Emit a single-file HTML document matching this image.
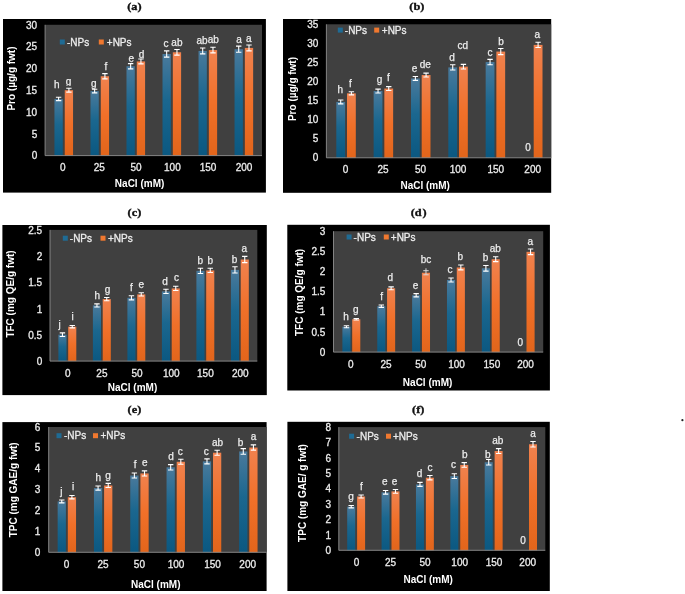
<!DOCTYPE html>
<html><head><meta charset="utf-8"><title>Figure</title>
<style>
html,body{margin:0;padding:0;background:#fff;}
body{width:685px;height:594px;overflow:hidden;}
svg{display:block;filter:blur(0.4px);}
text{font-family:"Liberation Sans",sans-serif;}
.s{font-family:"Liberation Serif",serif;font-weight:bold;font-size:10.8px;fill:#111;stroke:#111;stroke-width:0.35px;}
.w{fill:#ececec;font-size:10px;stroke:#ececec;stroke-width:0.3px;}
.b{fill:#fff;font-size:10px;font-weight:bold;}
.l{fill:#ececec;font-size:10px;stroke:#ececec;stroke-width:0.25px;}
</style></head>
<body>
<svg width="685" height="594" viewBox="0 0 685 594">
<defs>
<linearGradient id="gb" x1="0" y1="0" x2="0" y2="1"><stop offset="0" stop-color="#4a7a9c"/><stop offset="0.45" stop-color="#1b678f"/><stop offset="1" stop-color="#0b5881"/></linearGradient>
<linearGradient id="go" x1="0" y1="0" x2="0" y2="1"><stop offset="0" stop-color="#f0824f"/><stop offset="0.5" stop-color="#f07029"/><stop offset="1" stop-color="#e2651b"/></linearGradient>
</defs>
<rect width="685" height="594" fill="#fff"/>
<g>
<text class="s" transform="translate(134.4 9.7) scale(1.14 1)" text-anchor="middle">(a)</text>
<rect x="3" y="19" width="262.9" height="173.6" fill="#000"/>
<rect x="45.1" y="24.8" width="216.9" height="130.8" fill="#404040"/>
<rect x="54.45" y="98.92" width="8.3" height="56.68" fill="url(#gb)"/>
<path d="M58.6 97.26V100.58M55.9 97.26H61.3M55.9 100.58H61.3" stroke="#fff" stroke-width="1.1" fill="none"/>
<text class="l" x="56.8" y="87.9" text-anchor="middle">h</text>
<rect x="64.75" y="90.2" width="8.3" height="65.4" fill="url(#go)"/>
<path d="M68.9 88.28V92.12M66.2 88.28H71.6M66.2 92.12H71.6" stroke="#fff" stroke-width="1.1" fill="none"/>
<clipPath id="cl1"><rect x="58.5" y="73.4" width="20" height="12.6"/></clipPath>
<text class="l" clip-path="url(#cl1)" x="68.5" y="85.4" text-anchor="middle">g</text>
<rect x="90.47" y="91.07" width="8.3" height="64.53" fill="url(#gb)"/>
<path d="M94.62 89.24V92.9M91.92 89.24H97.32M91.92 92.9H97.32" stroke="#fff" stroke-width="1.1" fill="none"/>
<text class="l" x="93.7" y="87.1" text-anchor="middle">g</text>
<rect x="100.77" y="76.25" width="8.3" height="79.35" fill="url(#go)"/>
<path d="M104.92 73.63V78.86M102.22 73.63H107.62M102.22 78.86H107.62" stroke="#fff" stroke-width="1.1" fill="none"/>
<text class="l" x="106" y="69.5" text-anchor="middle">f</text>
<rect x="126.49" y="66.22" width="8.3" height="89.38" fill="url(#gb)"/>
<path d="M130.64 63.6V68.84M127.94 63.6H133.34M127.94 68.84H133.34" stroke="#fff" stroke-width="1.1" fill="none"/>
<text class="l" x="131.2" y="62.2" text-anchor="middle">e</text>
<rect x="136.79" y="61.42" width="8.3" height="94.18" fill="url(#go)"/>
<path d="M140.94 58.94V63.91M138.24 58.94H143.64M138.24 63.91H143.64" stroke="#fff" stroke-width="1.1" fill="none"/>
<text class="l" x="141.6" y="57.7" text-anchor="middle">d</text>
<rect x="162.51" y="54.01" width="8.3" height="101.59" fill="url(#gb)"/>
<path d="M166.66 50.87V57.15M163.96 50.87H169.36M163.96 57.15H169.36" stroke="#fff" stroke-width="1.1" fill="none"/>
<text class="l" x="166" y="46.9" text-anchor="middle">c</text>
<rect x="172.81" y="52.27" width="8.3" height="103.33" fill="url(#go)"/>
<path d="M176.96 49.43V55.1M174.26 49.43H179.66M174.26 55.1H179.66" stroke="#fff" stroke-width="1.1" fill="none"/>
<text class="l" x="176.9" y="45.5" text-anchor="middle">ab</text>
<rect x="198.53" y="50.96" width="8.3" height="104.64" fill="url(#gb)"/>
<path d="M202.68 48.04V53.88M199.98 48.04H205.38M199.98 53.88H205.38" stroke="#fff" stroke-width="1.1" fill="none"/>
<text class="l" x="202" y="43.5" text-anchor="middle">ab</text>
<rect x="208.83" y="50.09" width="8.3" height="105.51" fill="url(#go)"/>
<path d="M212.98 47.25V52.92M210.28 47.25H215.68M210.28 52.92H215.68" stroke="#fff" stroke-width="1.1" fill="none"/>
<text class="l" x="213.3" y="43" text-anchor="middle">ab</text>
<rect x="234.55" y="49.22" width="8.3" height="106.38" fill="url(#gb)"/>
<path d="M238.7 46.16V52.27M236 46.16H241.4M236 52.27H241.4" stroke="#fff" stroke-width="1.1" fill="none"/>
<text class="l" x="239" y="42.7" text-anchor="middle">a</text>
<rect x="244.85" y="47.91" width="8.3" height="107.69" fill="url(#go)"/>
<path d="M249 44.99V50.83M246.3 44.99H251.7M246.3 50.83H251.7" stroke="#fff" stroke-width="1.1" fill="none"/>
<text class="l" x="248.7" y="41.5" text-anchor="middle">a</text>
<path d="M45.1 24.8V155.6H262" stroke="#8e8e8e" stroke-width="0.9" fill="none"/>
<text class="w" x="37.2" y="159.3" text-anchor="end">0</text>
<text class="w" x="37.2" y="137.5" text-anchor="end">5</text>
<text class="w" x="37.2" y="115.7" text-anchor="end">10</text>
<text class="w" x="37.2" y="93.9" text-anchor="end">15</text>
<text class="w" x="37.2" y="72.1" text-anchor="end">20</text>
<text class="w" x="37.2" y="50.3" text-anchor="end">25</text>
<text class="w" x="37.2" y="28.5" text-anchor="end">30</text>
<text class="w" x="62.7" y="171" text-anchor="middle">0</text>
<text class="w" x="99.3" y="171" text-anchor="middle">25</text>
<text class="w" x="136" y="171" text-anchor="middle">50</text>
<text class="w" x="172.4" y="171" text-anchor="middle">100</text>
<text class="w" x="208.1" y="171" text-anchor="middle">150</text>
<text class="w" x="244" y="171" text-anchor="middle">200</text>
<text class="b" x="139.6" y="186.6" text-anchor="middle">NaCl (mM)</text>
<text class="b" transform="translate(15.1 78.5) rotate(-90)" text-anchor="middle">Pro (µg/g fwt)</text>
<rect x="59.8" y="39.5" width="5" height="5" fill="#1f6b94"/>
<text class="w" x="67" y="45.5">-NPs</text>
<rect x="98.8" y="39.5" width="5" height="5" fill="#f0782f"/>
<text class="w" x="106.8" y="45.5">+NPs</text>
</g>
<g>
<text class="s" transform="translate(416.9 9.7) scale(1.14 1)" text-anchor="middle">(b)</text>
<rect x="283" y="19" width="268.2" height="173.8" fill="#000"/>
<rect x="326.4" y="24.3" width="224.8" height="133.5" fill="#404040"/>
<rect x="336.3" y="101.92" width="8.8" height="55.88" fill="url(#gb)"/>
<path d="M340.7 100.01V103.83M338 100.01H343.4M338 103.83H343.4" stroke="#fff" stroke-width="1.1" fill="none"/>
<text class="l" x="340.4" y="92.7" text-anchor="middle">h</text>
<rect x="347" y="93.34" width="8.8" height="64.46" fill="url(#go)"/>
<path d="M351.4 91.81V94.86M348.7 91.81H354.1M348.7 94.86H354.1" stroke="#fff" stroke-width="1.1" fill="none"/>
<text class="l" x="350.5" y="86.6" text-anchor="middle">f</text>
<rect x="373.64" y="91.05" width="8.8" height="66.75" fill="url(#gb)"/>
<path d="M378.04 89.14V92.96M375.34 89.14H380.74M375.34 92.96H380.74" stroke="#fff" stroke-width="1.1" fill="none"/>
<text class="l" x="379.6" y="82.9" text-anchor="middle">g</text>
<rect x="384.34" y="88.53" width="8.8" height="69.27" fill="url(#go)"/>
<path d="M388.74 86.63V90.44M386.04 86.63H391.44M386.04 90.44H391.44" stroke="#fff" stroke-width="1.1" fill="none"/>
<text class="l" x="388.3" y="80.9" text-anchor="middle">f</text>
<rect x="410.98" y="78.46" width="8.8" height="79.34" fill="url(#gb)"/>
<path d="M415.38 76.56V80.37M412.68 76.56H418.08M412.68 80.37H418.08" stroke="#fff" stroke-width="1.1" fill="none"/>
<text class="l" x="414.5" y="71.5" text-anchor="middle">e</text>
<rect x="421.68" y="75.03" width="8.8" height="82.77" fill="url(#go)"/>
<path d="M426.08 73.12V76.94M423.38 73.12H428.78M423.38 76.94H428.78" stroke="#fff" stroke-width="1.1" fill="none"/>
<text class="l" x="425.2" y="68.3" text-anchor="middle">de</text>
<rect x="448.32" y="67.4" width="8.8" height="90.4" fill="url(#gb)"/>
<path d="M452.72 64.73V70.07M450.02 64.73H455.42M450.02 70.07H455.42" stroke="#fff" stroke-width="1.1" fill="none"/>
<text class="l" x="452.1" y="60.8" text-anchor="middle">d</text>
<rect x="459.02" y="66.64" width="8.8" height="91.16" fill="url(#go)"/>
<path d="M463.42 64.35V68.93M460.72 64.35H466.12M460.72 68.93H466.12" stroke="#fff" stroke-width="1.1" fill="none"/>
<text class="l" x="462.7" y="48.5" text-anchor="middle">cd</text>
<rect x="485.66" y="62.06" width="8.8" height="95.74" fill="url(#gb)"/>
<path d="M490.06 59.39V64.73M487.36 59.39H492.76M487.36 64.73H492.76" stroke="#fff" stroke-width="1.1" fill="none"/>
<text class="l" x="489.9" y="55.8" text-anchor="middle">c</text>
<rect x="496.36" y="51.57" width="8.8" height="106.23" fill="url(#go)"/>
<path d="M500.76 48.52V54.62M498.06 48.52H503.46M498.06 54.62H503.46" stroke="#fff" stroke-width="1.1" fill="none"/>
<text class="l" x="501.1" y="44.8" text-anchor="middle">b</text>
<text class="l" x="528" y="151.1" text-anchor="middle">0</text>
<rect x="533.7" y="44.9" width="8.8" height="112.9" fill="url(#go)"/>
<path d="M538.1 42.23V47.57M535.4 42.23H540.8M535.4 47.57H540.8" stroke="#fff" stroke-width="1.1" fill="none"/>
<text class="l" x="537.2" y="37.6" text-anchor="middle">a</text>
<path d="M326.4 24.3V157.8H551.2" stroke="#8e8e8e" stroke-width="0.9" fill="none"/>
<text class="w" x="318.4" y="161.4" text-anchor="end">0</text>
<text class="w" x="318.4" y="142.33" text-anchor="end">5</text>
<text class="w" x="318.4" y="123.26" text-anchor="end">10</text>
<text class="w" x="318.4" y="104.19" text-anchor="end">15</text>
<text class="w" x="318.4" y="85.11" text-anchor="end">20</text>
<text class="w" x="318.4" y="66.04" text-anchor="end">25</text>
<text class="w" x="318.4" y="46.97" text-anchor="end">30</text>
<text class="w" x="318.4" y="27.9" text-anchor="end">35</text>
<text class="w" x="345.6" y="172.6" text-anchor="middle">0</text>
<text class="w" x="383" y="172.6" text-anchor="middle">25</text>
<text class="w" x="420.5" y="172.6" text-anchor="middle">50</text>
<text class="w" x="458" y="172.6" text-anchor="middle">100</text>
<text class="w" x="495.8" y="172.6" text-anchor="middle">150</text>
<text class="w" x="532.7" y="172.6" text-anchor="middle">200</text>
<text class="b" x="425.2" y="189.4" text-anchor="middle">NaCl (mM)</text>
<text class="b" transform="translate(296 89) rotate(-90)" text-anchor="middle">Pro (µg/g fwt)</text>
<rect x="337.8" y="27.6" width="5" height="5" fill="#1f6b94"/>
<text class="w" x="344.8" y="33.6">-NPs</text>
<rect x="374.2" y="27.6" width="5" height="5" fill="#f0782f"/>
<text class="w" x="381.8" y="33.6">+NPs</text>
</g>
<g>
<text class="s" transform="translate(134.4 215.8) scale(1.14 1)" text-anchor="middle">(c)</text>
<rect x="2.4" y="225" width="264.4" height="170.1" fill="#000"/>
<rect x="50" y="229.9" width="207.3" height="131.2" fill="#404040"/>
<rect x="58.4" y="334.7" width="8.1" height="26.4" fill="url(#gb)"/>
<path d="M62.45 332.87V336.54M59.75 332.87H65.15M59.75 336.54H65.15" stroke="#fff" stroke-width="1.1" fill="none"/>
<text class="l" x="59.6" y="328.4" text-anchor="middle">j</text>
<rect x="68.2" y="326.73" width="8.1" height="34.37" fill="url(#go)"/>
<path d="M72.25 325.57V327.88M69.55 325.57H74.95M69.55 327.88H74.95" stroke="#fff" stroke-width="1.1" fill="none"/>
<text class="l" x="72.7" y="319.9" text-anchor="middle">i</text>
<rect x="92.9" y="305.42" width="8.1" height="55.68" fill="url(#gb)"/>
<path d="M96.95 303.84V306.99M94.25 303.84H99.65M94.25 306.99H99.65" stroke="#fff" stroke-width="1.1" fill="none"/>
<text class="l" x="97.4" y="298.5" text-anchor="middle">h</text>
<rect x="102.7" y="299.12" width="8.1" height="61.98" fill="url(#go)"/>
<path d="M106.75 297.55V300.7M104.05 297.55H109.45M104.05 300.7H109.45" stroke="#fff" stroke-width="1.1" fill="none"/>
<text class="l" x="107.5" y="292.7" text-anchor="middle">g</text>
<rect x="127.4" y="297.81" width="8.1" height="63.29" fill="url(#gb)"/>
<path d="M131.45 295.71V299.91M128.75 295.71H134.15M128.75 299.91H134.15" stroke="#fff" stroke-width="1.1" fill="none"/>
<text class="l" x="131.5" y="291" text-anchor="middle">f</text>
<rect x="137.2" y="294.4" width="8.1" height="66.7" fill="url(#go)"/>
<path d="M141.25 292.82V295.97M138.55 292.82H143.95M138.55 295.97H143.95" stroke="#fff" stroke-width="1.1" fill="none"/>
<text class="l" x="141.2" y="287.6" text-anchor="middle">e</text>
<rect x="161.9" y="291.41" width="8.1" height="69.69" fill="url(#gb)"/>
<path d="M165.95 289.31V293.51M163.25 289.31H168.65M163.25 293.51H168.65" stroke="#fff" stroke-width="1.1" fill="none"/>
<text class="l" x="165.1" y="284.9" text-anchor="middle">d</text>
<rect x="171.7" y="288.42" width="8.1" height="72.68" fill="url(#go)"/>
<path d="M175.75 286.32V290.51M173.05 286.32H178.45M173.05 290.51H178.45" stroke="#fff" stroke-width="1.1" fill="none"/>
<text class="l" x="176.4" y="281.2" text-anchor="middle">c</text>
<rect x="196.4" y="270.83" width="8.1" height="90.27" fill="url(#gb)"/>
<path d="M200.45 268.21V273.46M197.75 268.21H203.15M197.75 273.46H203.15" stroke="#fff" stroke-width="1.1" fill="none"/>
<text class="l" x="200.4" y="264" text-anchor="middle">b</text>
<rect x="206.2" y="270.41" width="8.1" height="90.69" fill="url(#go)"/>
<path d="M210.25 268.32V272.51M207.55 268.32H212.95M207.55 272.51H212.95" stroke="#fff" stroke-width="1.1" fill="none"/>
<text class="l" x="210.4" y="263.6" text-anchor="middle">b</text>
<rect x="230.9" y="269.89" width="8.1" height="91.21" fill="url(#gb)"/>
<path d="M234.95 266.74V273.04M232.25 266.74H237.65M232.25 273.04H237.65" stroke="#fff" stroke-width="1.1" fill="none"/>
<text class="l" x="234.5" y="263.3" text-anchor="middle">b</text>
<rect x="240.7" y="259.5" width="8.1" height="101.6" fill="url(#go)"/>
<path d="M244.75 256.35V262.65M242.05 256.35H247.45M242.05 262.65H247.45" stroke="#fff" stroke-width="1.1" fill="none"/>
<text class="l" x="244.4" y="252.4" text-anchor="middle">a</text>
<path d="M50 229.9V361.1H257.3" stroke="#8e8e8e" stroke-width="0.9" fill="none"/>
<text class="w" x="42.2" y="365.2" text-anchor="end">0</text>
<text class="w" x="42.2" y="338.96" text-anchor="end">0.5</text>
<text class="w" x="42.2" y="312.72" text-anchor="end">1</text>
<text class="w" x="42.2" y="286.48" text-anchor="end">1.5</text>
<text class="w" x="42.2" y="260.24" text-anchor="end">2</text>
<text class="w" x="42.2" y="234" text-anchor="end">2.5</text>
<text class="w" x="67.8" y="376.6" text-anchor="middle">0</text>
<text class="w" x="101.9" y="376.6" text-anchor="middle">25</text>
<text class="w" x="137" y="376.6" text-anchor="middle">50</text>
<text class="w" x="171.3" y="376.6" text-anchor="middle">100</text>
<text class="w" x="205.4" y="376.6" text-anchor="middle">150</text>
<text class="w" x="240.3" y="376.6" text-anchor="middle">200</text>
<text class="b" x="132.5" y="391" text-anchor="middle">NaCl (mM)</text>
<text class="b" transform="translate(14.4 294) rotate(-90)" text-anchor="middle">TFC (mg QE/g fwt)</text>
<rect x="62.8" y="235.7" width="5" height="5" fill="#1f6b94"/>
<text class="w" x="69.8" y="241.7">-NPs</text>
<rect x="100.5" y="235.7" width="5" height="5" fill="#f0782f"/>
<text class="w" x="108" y="241.7">+NPs</text>
</g>
<g>
<text class="s" transform="translate(418.7 215.8) scale(1.14 1)" text-anchor="middle">(d<tspan dx="0.9">)</tspan></text>
<rect x="287.3" y="224.8" width="262.6" height="165.7" fill="#000"/>
<rect x="333.5" y="231.2" width="209.7" height="120.9" fill="#404040"/>
<rect x="342.4" y="326.71" width="8.1" height="25.39" fill="url(#gb)"/>
<path d="M346.45 325.7V327.72M343.75 325.7H349.15M343.75 327.72H349.15" stroke="#fff" stroke-width="1.1" fill="none"/>
<text class="l" x="346" y="320.1" text-anchor="middle">h</text>
<rect x="352.2" y="319.26" width="8.1" height="32.84" fill="url(#go)"/>
<path d="M356.25 318.45V320.06M353.55 318.45H358.95M353.55 320.06H358.95" stroke="#fff" stroke-width="1.1" fill="none"/>
<text class="l" x="355.7" y="312.6" text-anchor="middle">g</text>
<rect x="377.26" y="306.2" width="8.1" height="45.9" fill="url(#gb)"/>
<path d="M381.31 304.99V307.41M378.61 304.99H384.01M378.61 307.41H384.01" stroke="#fff" stroke-width="1.1" fill="none"/>
<text class="l" x="381.7" y="299.5" text-anchor="middle">f</text>
<rect x="387.06" y="288.26" width="8.1" height="63.84" fill="url(#go)"/>
<path d="M391.11 286.85V289.68M388.41 286.85H393.81M388.41 289.68H393.81" stroke="#fff" stroke-width="1.1" fill="none"/>
<text class="l" x="390.4" y="281" text-anchor="middle">d</text>
<rect x="412.12" y="295.28" width="8.1" height="56.82" fill="url(#gb)"/>
<path d="M416.17 293.66V296.89M413.47 293.66H418.87M413.47 296.89H418.87" stroke="#fff" stroke-width="1.1" fill="none"/>
<text class="l" x="415.5" y="288.5" text-anchor="middle">e</text>
<rect x="421.92" y="272.71" width="8.1" height="79.39" fill="url(#go)"/>
<path d="M425.97 268.31V274.81M423.27 270.71H428.67M423.27 274.81H428.67" stroke="#d8d8d8" stroke-width="1" fill="none"/>
<text class="l" x="426" y="263.3" text-anchor="middle">bc</text>
<rect x="446.98" y="279.96" width="8.1" height="72.14" fill="url(#gb)"/>
<path d="M451.03 277.95V281.98M448.33 277.95H453.73M448.33 281.98H453.73" stroke="#fff" stroke-width="1.1" fill="none"/>
<text class="l" x="449.9" y="272.5" text-anchor="middle">c</text>
<rect x="456.78" y="267.47" width="8.1" height="84.63" fill="url(#go)"/>
<path d="M460.83 265.05V269.89M458.13 265.05H463.53M458.13 269.89H463.53" stroke="#fff" stroke-width="1.1" fill="none"/>
<text class="l" x="460.4" y="260.2" text-anchor="middle">b</text>
<rect x="481.84" y="268.28" width="8.1" height="83.82" fill="url(#gb)"/>
<path d="M485.89 265.45V271.1M483.19 265.45H488.59M483.19 271.1H488.59" stroke="#fff" stroke-width="1.1" fill="none"/>
<text class="l" x="485.6" y="261" text-anchor="middle">b</text>
<rect x="491.64" y="259.21" width="8.1" height="92.89" fill="url(#go)"/>
<path d="M495.69 256.79V261.63M492.99 256.79H498.39M492.99 261.63H498.39" stroke="#fff" stroke-width="1.1" fill="none"/>
<text class="l" x="495.3" y="251.7" text-anchor="middle">ab</text>
<text class="l" x="520.4" y="345.7" text-anchor="middle">0</text>
<rect x="526.5" y="251.83" width="8.1" height="100.27" fill="url(#go)"/>
<path d="M530.55 249.01V254.65M527.85 249.01H533.25M527.85 254.65H533.25" stroke="#fff" stroke-width="1.1" fill="none"/>
<text class="l" x="530.2" y="244.75" text-anchor="middle">a</text>
<path d="M333.5 231.2V352.1H543.2" stroke="#8e8e8e" stroke-width="0.9" fill="none"/>
<text class="w" x="325.4" y="355.7" text-anchor="end">0</text>
<text class="w" x="325.4" y="335.55" text-anchor="end">0.5</text>
<text class="w" x="325.4" y="315.4" text-anchor="end">1</text>
<text class="w" x="325.4" y="295.25" text-anchor="end">1.5</text>
<text class="w" x="325.4" y="275.1" text-anchor="end">2</text>
<text class="w" x="325.4" y="254.95" text-anchor="end">2.5</text>
<text class="w" x="325.4" y="234.8" text-anchor="end">3</text>
<text class="w" x="350.9" y="367.5" text-anchor="middle">0</text>
<text class="w" x="386" y="367.5" text-anchor="middle">25</text>
<text class="w" x="420.8" y="367.5" text-anchor="middle">50</text>
<text class="w" x="456.6" y="367.5" text-anchor="middle">100</text>
<text class="w" x="491.9" y="367.5" text-anchor="middle">150</text>
<text class="w" x="525.5" y="367.5" text-anchor="middle">200</text>
<text class="b" x="427.6" y="386" text-anchor="middle">NaCl (mM)</text>
<text class="b" transform="translate(303.3 292.4) rotate(-90)" text-anchor="middle">TFC (mg QE/g fwt)</text>
<rect x="346.6" y="234.5" width="5" height="5" fill="#1f6b94"/>
<text class="w" x="353.6" y="240.5">-NPs</text>
<rect x="383.8" y="234.5" width="5" height="5" fill="#f0782f"/>
<text class="w" x="390.8" y="240.5">+NPs</text>
</g>
<g>
<text class="s" transform="translate(134.4 412.5) scale(1.14 1)" text-anchor="middle">(e)</text>
<rect x="2.4" y="422.1" width="264.2" height="168.9" fill="#000"/>
<rect x="48.7" y="427" width="217.9" height="125.3" fill="#404040"/>
<rect x="57.65" y="501.41" width="8.25" height="50.89" fill="url(#gb)"/>
<path d="M61.77 499.95V502.87M59.07 499.95H64.47M59.07 502.87H64.47" stroke="#fff" stroke-width="1.1" fill="none"/>
<text class="l" x="61.3" y="494.6" text-anchor="middle">j</text>
<rect x="67.8" y="497.23" width="8.25" height="55.07" fill="url(#go)"/>
<path d="M71.92 495.56V498.9M69.22 495.56H74.62M69.22 498.9H74.62" stroke="#fff" stroke-width="1.1" fill="none"/>
<text class="l" x="73" y="490.4" text-anchor="middle">i</text>
<rect x="93.95" y="488.06" width="8.25" height="64.24" fill="url(#gb)"/>
<path d="M98.08 485.97V490.15M95.38 485.97H100.78M95.38 490.15H100.78" stroke="#fff" stroke-width="1.1" fill="none"/>
<text class="l" x="98.4" y="481.1" text-anchor="middle">h</text>
<rect x="104.1" y="485.47" width="8.25" height="66.83" fill="url(#go)"/>
<path d="M108.23 483.38V487.56M105.53 483.38H110.93M105.53 487.56H110.93" stroke="#fff" stroke-width="1.1" fill="none"/>
<text class="l" x="108" y="479" text-anchor="middle">g</text>
<rect x="130.25" y="475.51" width="8.25" height="76.79" fill="url(#gb)"/>
<path d="M134.38 473.01V478.02M131.68 473.01H137.07M131.68 478.02H137.07" stroke="#fff" stroke-width="1.1" fill="none"/>
<text class="l" x="135.2" y="468.2" text-anchor="middle">f</text>
<rect x="140.4" y="473.42" width="8.25" height="78.88" fill="url(#go)"/>
<path d="M144.52 470.92V475.93M141.82 470.92H147.22M141.82 475.93H147.22" stroke="#fff" stroke-width="1.1" fill="none"/>
<text class="l" x="144.9" y="466.4" text-anchor="middle">e</text>
<rect x="166.55" y="467.3" width="8.25" height="85" fill="url(#gb)"/>
<path d="M170.68 464.59V470.02M167.98 464.59H173.38M167.98 470.02H173.38" stroke="#fff" stroke-width="1.1" fill="none"/>
<text class="l" x="171" y="460.3" text-anchor="middle">d</text>
<rect x="176.7" y="461.77" width="8.25" height="90.53" fill="url(#go)"/>
<path d="M180.82 459.26V464.28M178.12 459.26H183.52M178.12 464.28H183.52" stroke="#fff" stroke-width="1.1" fill="none"/>
<text class="l" x="180.2" y="454.8" text-anchor="middle">c</text>
<rect x="202.85" y="461.37" width="8.25" height="90.93" fill="url(#gb)"/>
<path d="M206.98 458.87V463.88M204.28 458.87H209.68M204.28 463.88H209.68" stroke="#fff" stroke-width="1.1" fill="none"/>
<text class="l" x="206.2" y="454.8" text-anchor="middle">c</text>
<rect x="213" y="452.71" width="8.25" height="99.59" fill="url(#go)"/>
<path d="M217.12 450.2V455.21M214.43 450.2H219.82M214.43 455.21H219.82" stroke="#fff" stroke-width="1.1" fill="none"/>
<text class="l" x="217.6" y="446" text-anchor="middle">ab</text>
<rect x="239.15" y="451.43" width="8.25" height="100.87" fill="url(#gb)"/>
<path d="M243.28 448.61V454.25M240.58 448.61H245.97M240.58 454.25H245.97" stroke="#fff" stroke-width="1.1" fill="none"/>
<text class="l" x="240.6" y="445.5" text-anchor="middle">b</text>
<rect x="249.3" y="447.53" width="8.25" height="104.77" fill="url(#go)"/>
<path d="M253.42 444.92V450.14M250.72 444.92H256.12M250.72 450.14H256.12" stroke="#fff" stroke-width="1.1" fill="none"/>
<text class="l" x="253.6" y="440.1" text-anchor="middle">a</text>
<path d="M48.7 427V552.3H266.6" stroke="#8e8e8e" stroke-width="0.9" fill="none"/>
<text class="w" x="40.2" y="555.9" text-anchor="end">0</text>
<text class="w" x="40.2" y="535.02" text-anchor="end">1</text>
<text class="w" x="40.2" y="514.13" text-anchor="end">2</text>
<text class="w" x="40.2" y="493.25" text-anchor="end">3</text>
<text class="w" x="40.2" y="472.37" text-anchor="end">4</text>
<text class="w" x="40.2" y="451.48" text-anchor="end">5</text>
<text class="w" x="40.2" y="430.6" text-anchor="end">6</text>
<text class="w" x="66.6" y="567.8" text-anchor="middle">0</text>
<text class="w" x="103" y="567.8" text-anchor="middle">25</text>
<text class="w" x="139.4" y="567.8" text-anchor="middle">50</text>
<text class="w" x="176" y="567.8" text-anchor="middle">100</text>
<text class="w" x="212.6" y="567.8" text-anchor="middle">150</text>
<text class="w" x="247.7" y="567.8" text-anchor="middle">200</text>
<text class="b" x="155.8" y="587.9" text-anchor="middle">NaCl (mM)</text>
<text class="b" transform="translate(17 489.8) rotate(-90)" text-anchor="middle">TPC (mg GAE/g fwt)</text>
<rect x="56.5" y="433.2" width="5" height="5" fill="#1f6b94"/>
<text class="w" x="64" y="439.2">-NPs</text>
<rect x="93" y="433.2" width="5" height="5" fill="#f0782f"/>
<text class="w" x="100.5" y="439.2">+NPs</text>
</g>
<g>
<text class="s" transform="translate(418.2 412.5) scale(1.14 1)" text-anchor="middle">(f)</text>
<rect x="287.4" y="421.8" width="262.4" height="169.2" fill="#000"/>
<rect x="338.8" y="427.1" width="206.5" height="123.2" fill="#404040"/>
<rect x="347.2" y="506.67" width="8" height="43.63" fill="url(#gb)"/>
<path d="M351.2 505.44V507.9M348.5 505.44H353.9M348.5 507.9H353.9" stroke="#fff" stroke-width="1.1" fill="none"/>
<text class="l" x="351" y="500.4" text-anchor="middle">g</text>
<rect x="357.1" y="496.49" width="8" height="53.81" fill="url(#go)"/>
<path d="M361.1 494.95V498.03M358.4 494.95H363.8M358.4 498.03H363.8" stroke="#fff" stroke-width="1.1" fill="none"/>
<text class="l" x="361.4" y="489.9" text-anchor="middle">f</text>
<rect x="381.58" y="492.29" width="8" height="58.01" fill="url(#gb)"/>
<path d="M385.58 490.44V494.14M382.88 490.44H388.28M382.88 494.14H388.28" stroke="#fff" stroke-width="1.1" fill="none"/>
<text class="l" x="384.9" y="485.3" text-anchor="middle">e</text>
<rect x="391.48" y="491.39" width="8" height="58.9" fill="url(#go)"/>
<path d="M395.48 489.55V493.24M392.78 489.55H398.18M392.78 493.24H398.18" stroke="#fff" stroke-width="1.1" fill="none"/>
<text class="l" x="394.6" y="485" text-anchor="middle">e</text>
<rect x="415.96" y="484.4" width="8" height="65.9" fill="url(#gb)"/>
<path d="M419.96 482.4V486.41M417.26 482.4H422.66M417.26 486.41H422.66" stroke="#fff" stroke-width="1.1" fill="none"/>
<text class="l" x="419.5" y="477.3" text-anchor="middle">d</text>
<rect x="425.86" y="477.72" width="8" height="72.58" fill="url(#go)"/>
<path d="M429.86 475.56V479.88M427.16 475.56H432.56M427.16 479.88H432.56" stroke="#fff" stroke-width="1.1" fill="none"/>
<text class="l" x="429.9" y="470.7" text-anchor="middle">c</text>
<rect x="450.34" y="476.12" width="8" height="74.18" fill="url(#gb)"/>
<path d="M454.34 473.81V478.43M451.64 473.81H457.04M451.64 478.43H457.04" stroke="#fff" stroke-width="1.1" fill="none"/>
<text class="l" x="453.5" y="467.5" text-anchor="middle">c</text>
<rect x="460.24" y="464.94" width="8" height="85.36" fill="url(#go)"/>
<path d="M464.24 462.63V467.25M461.54 462.63H466.94M461.54 467.25H466.94" stroke="#fff" stroke-width="1.1" fill="none"/>
<text class="l" x="464.7" y="457.8" text-anchor="middle">b</text>
<rect x="484.72" y="462.24" width="8" height="88.06" fill="url(#gb)"/>
<path d="M488.72 459.47V465.01M486.02 459.47H491.42M486.02 465.01H491.42" stroke="#fff" stroke-width="1.1" fill="none"/>
<text class="l" x="487.9" y="457.8" text-anchor="middle">b</text>
<rect x="494.62" y="451.06" width="8" height="99.24" fill="url(#go)"/>
<path d="M498.62 448.6V453.53M495.92 448.6H501.32M495.92 453.53H501.32" stroke="#fff" stroke-width="1.1" fill="none"/>
<text class="l" x="497.8" y="443.8" text-anchor="middle">ab</text>
<text class="l" x="523.1" y="544.2" text-anchor="middle">0</text>
<rect x="529" y="444.27" width="8" height="106.03" fill="url(#go)"/>
<path d="M533 441.5V447.04M530.3 441.5H535.7M530.3 447.04H535.7" stroke="#fff" stroke-width="1.1" fill="none"/>
<text class="l" x="533" y="436.8" text-anchor="middle">a</text>
<path d="M338.8 427.1V550.3H545.3" stroke="#8e8e8e" stroke-width="0.9" fill="none"/>
<text class="w" x="331" y="553.9" text-anchor="end">0</text>
<text class="w" x="331" y="538.5" text-anchor="end">1</text>
<text class="w" x="331" y="523.1" text-anchor="end">2</text>
<text class="w" x="331" y="507.7" text-anchor="end">3</text>
<text class="w" x="331" y="492.3" text-anchor="end">4</text>
<text class="w" x="331" y="476.9" text-anchor="end">5</text>
<text class="w" x="331" y="461.5" text-anchor="end">6</text>
<text class="w" x="331" y="446.1" text-anchor="end">7</text>
<text class="w" x="331" y="430.7" text-anchor="end">8</text>
<text class="w" x="356.6" y="565.6" text-anchor="middle">0</text>
<text class="w" x="390.6" y="565.6" text-anchor="middle">25</text>
<text class="w" x="425" y="565.6" text-anchor="middle">50</text>
<text class="w" x="459.7" y="565.6" text-anchor="middle">100</text>
<text class="w" x="494.1" y="565.6" text-anchor="middle">150</text>
<text class="w" x="527.7" y="565.6" text-anchor="middle">200</text>
<text class="b" x="428.2" y="582.9" text-anchor="middle">NaCl (mM)</text>
<text class="b" transform="translate(305.8 493) rotate(-90)" text-anchor="middle">TPC (mg GAE/ g fwt)</text>
<rect x="349.1" y="433.7" width="5" height="5" fill="#1f6b94"/>
<text class="w" x="356.6" y="439.7">-NPs</text>
<rect x="386" y="433.7" width="5" height="5" fill="#f0782f"/>
<text class="w" x="393" y="439.7">+NPs</text>
</g>
<circle cx="682.4" cy="420.2" r="1.1" fill="#222"/>
</svg>
</body></html>
